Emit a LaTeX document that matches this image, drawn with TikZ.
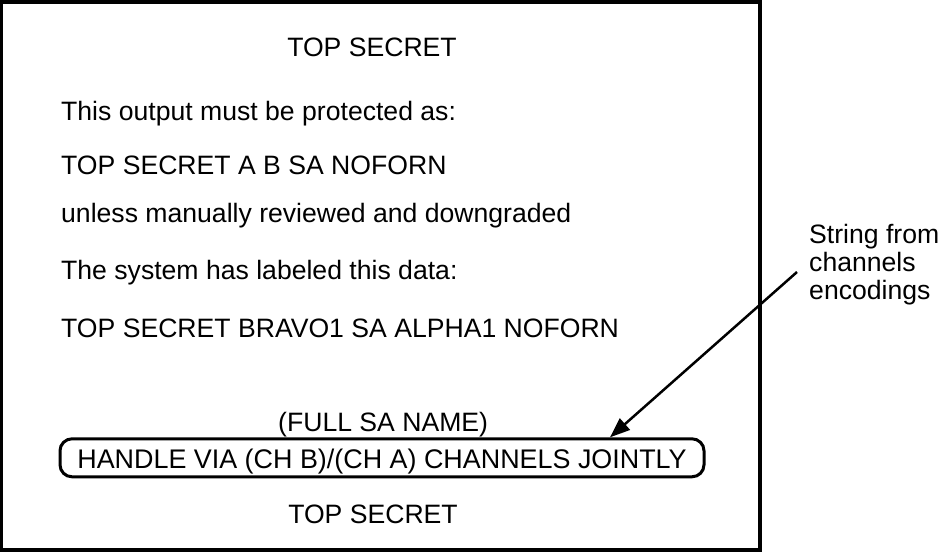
\documentclass[tikz,border=0pt]{standalone}
\usepackage{fontspec}
\setmainfont{Liberation Sans}
\usepackage{tikz}
\usetikzlibrary{arrows.meta}

\begin{document}
\begin{tikzpicture}[x=1pt,y=-1pt,
    every node/.style={inner sep=0pt,font=\fontsize{26.6}{28}\selectfont},
    line/.style={anchor=base west},
    title/.style={anchor=base}]
\useasboundingbox (0,0) rectangle (942,552);
\draw[line width=3.4pt] (1.7,2) rectangle (760,550);

\node[title] (top) at (372,56) {TOP SECRET};
\node[line] (l1) at (61,120) {This output must be protected as:};
\node[line] (l2) at (61,174) {TOP SECRET A B SA NOFORN};
\node[line] (l3) at (61,222) {unless manually reviewed and downgraded};
\node[line] (l4) at (61,279.5) {The system has labeled this data:};
\node[line] (l5) at (61,337.5) {TOP SECRET BRAVO1 SA ALPHA1 NOFORN};
\node[line] (sa) at (278,431.7) {(FULL SA NAME)};
\node[draw,line width=3pt,rounded corners=12pt,minimum width=644pt,minimum height=38pt,
      text height=24pt,text depth=3pt,font=\fontsize{26.9}{28}\selectfont] (handle) at (382,457.8) {HANDLE VIA (CH B)/(CH A) CHANNELS JOINTLY};
\node[title] (bottom) at (373,523.3) {TOP SECRET};

% the base of a multi-line node is its last line
\node[line,align=left] (note) at (809,299) {String from\\channels\\encodings};

\coordinate (tail) at (797,272);
\coordinate (tip) at (610,438);
\draw[line width=2.5pt,-{Triangle[length=20pt,width=15pt]}] (tail) -- (handle.north -| tip);
\end{tikzpicture}
\end{document}
